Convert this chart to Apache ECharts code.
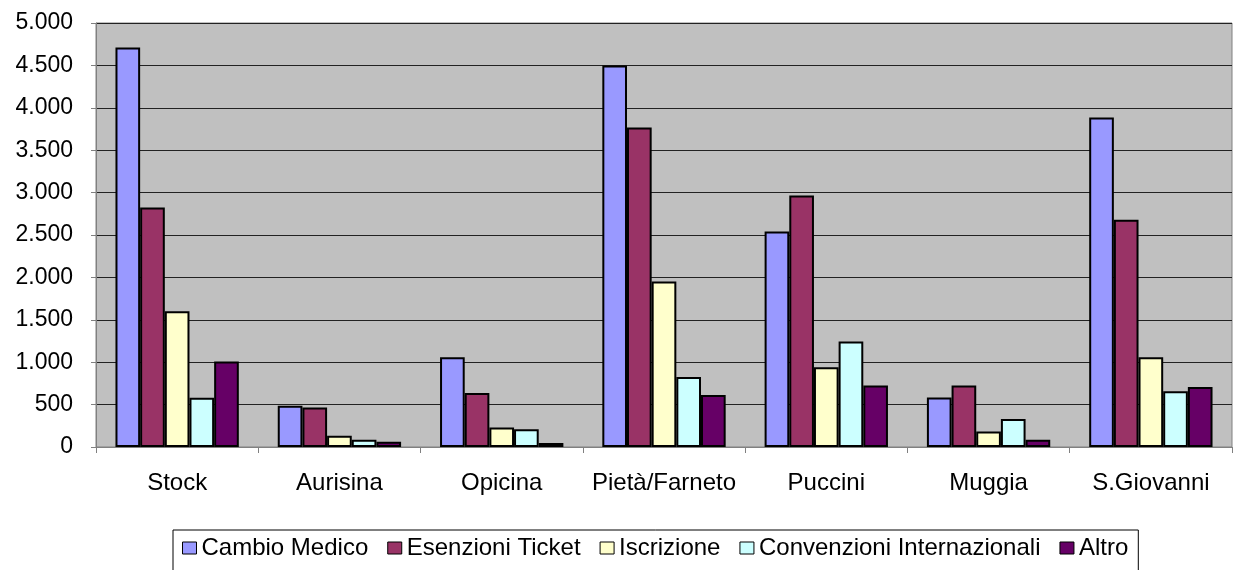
<!DOCTYPE html>
<html>
<head>
<meta charset="utf-8">
<script src="https://cdn.jsdelivr.net/npm/echarts@6/dist/echarts.min.js"></script>
<style>
html,body{margin:0;padding:0;background:#fff;}
#chart{width:1239px;height:570px;}
</style>
</head>
<body>
<div id="chart"></div>
<script>
var categories = ['Stock', 'Aurisina', 'Opicina', 'Pietà/Farneto', 'Puccini', 'Muggia', 'S.Giovanni'];
var seriesNames = ['Cambio Medico', 'Esenzioni Ticket', 'Iscrizione', 'Convenzioni Internazionali', 'Altro'];
var cambioMedico = [4710, 487, 1057, 4500, 2542, 585, 3887];
var esenzioniTicket = [2825, 467, 637, 3769, 2967, 726, 2680];
var iscrizione = [1600, 133, 231, 1953, 939, 184, 1057];
var convenzioniInternazionali = [581, 86, 208, 825, 1245, 330, 656];
var altro = [1009, 63, 47, 613, 726, 86, 708];
var colors = ['#9999FF', '#993366', '#FFFFCC', '#CCFFFF', '#660066'];

var allValues = [cambioMedico, esenzioniTicket, iscrizione, convenzioniInternazionali, altro];

function fmt(v) {
  return String(v).replace(/\B(?=(\d{3})+(?!\d))/g, '.');
}

var chart = echarts.init(document.getElementById('chart'), null, {renderer: 'canvas'});
var FONT = 'Liberation Sans, Arial, sans-serif';

var series = seriesNames.map(function (name, i) {
  return {
    name: name,
    type: 'bar',
    data: allValues[i],
    barGap: '0%',
    barCategoryGap: '24%',
    itemStyle: { color: colors[i], borderColor: '#000', borderWidth: 2 },
    emphasis: { disabled: true }
  };
});

chart.setOption({
  animation: false,
  backgroundColor: '#ffffff',
  color: colors,
  grid: {
    left: 96, right: 7, top: 23, bottom: 123,
    show: true, backgroundColor: '#C0C0C0', borderColor: '#808080', borderWidth: 1
  },
  legend: {
    left: 173, top: 530,
    data: seriesNames,
    icon: 'rect',
    itemWidth: 14, itemHeight: 12,
    itemGap: 19,
    borderColor: '#000', borderWidth: 1,
    padding: [6, 10, 14, 9],
    textStyle: { fontFamily: FONT, fontSize: 24, color: '#000' },
    itemStyle: { borderColor: '#000', borderWidth: 1 }
  },
  xAxis: {
    type: 'category',
    data: categories,
    axisLine: { lineStyle: { color: '#808080', width: 1 } },
    axisTick: { show: true, length: 6, lineStyle: { color: '#808080' } },
    axisLabel: { fontFamily: FONT, fontSize: 24, color: '#000', margin: 24, interval: 0 },
    splitLine: { show: false }
  },
  yAxis: {
    type: 'value',
    min: 0, max: 5000, interval: 500,
    axisLine: { show: true, lineStyle: { color: '#808080', width: 1 } },
    axisTick: { show: true, length: 5, lineStyle: { color: '#808080' } },
    axisLabel: { fontFamily: FONT, fontSize: 23, color: '#000', margin: 23, formatter: fmt },
    splitLine: { show: true, lineStyle: { color: '#222', width: 1 } }
  },
  series: series
});
</script>
</body>
</html>
